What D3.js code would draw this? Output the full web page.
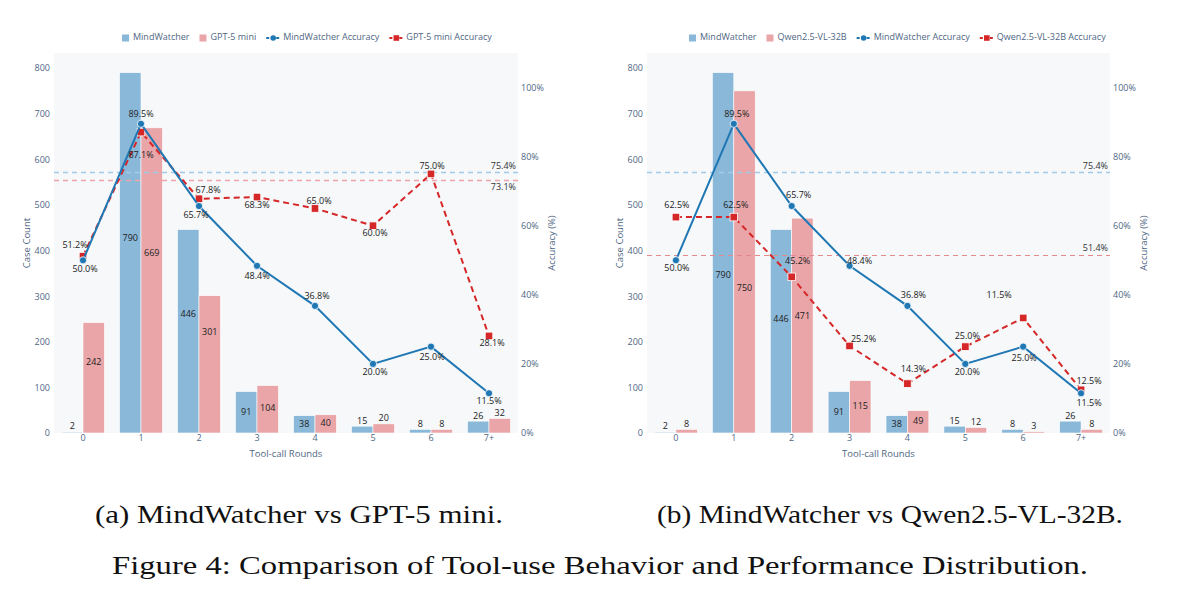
<!DOCTYPE html>
<html>
<head>
<meta charset="utf-8">
<script src="https://cdn.jsdelivr.net/npm/d3@7"></script>
<style>
  body { margin: 0; background: #fff; }
  svg { display: block; }
</style>
</head>
<body>
<script>
// values
const rounds = ['0', '1', '2', '3', '4', '5', '6', '7+']
const countTicks = [0, 100, 200, 300, 400, 500, 600, 700, 800]
const accTicks = [0, 20, 40, 60, 80, 100]

const mindCounts = [2, 790, 446, 91, 38, 15, 8, 26]
const mindAcc = [50.0, 89.5, 65.7, 48.4, 36.8, 20.0, 25.0, 11.5]
const mindMean = 75.4

const gptCounts = [242, 669, 301, 104, 40, 20, 8, 32]
const gptAcc = [51.2, 87.1, 67.8, 68.3, 65.0, 60.0, 75.0, 28.1]
const gptMean = 73.1

const qwenCounts = [8, 750, 471, 115, 49, 12, 3, 8]
const qwenAcc = [62.5, 62.5, 45.2, 25.2, 14.3, 25.0, 33.3, 12.5]
// the source figure prints "11.5%" next to the round-6 point
const qwenAccText = ['62.5%', '62.5%', '45.2%', '25.2%', '14.3%', '25.0%', '11.5%', '12.5%']
const qwenMean = 51.4

const pct = v => v.toFixed(1) + '%'

const width = 1187, height = 595
const blueBar = '#8ab8d9', pinkBar = '#e9a5a8'
const blueLine = '#1f77b4', redLine = '#d62728'
const tickColor = '#506784'
const font = 'Open Sans, sans-serif'

const svg = d3.select('body').append('svg')
    .attr('width', width)
    .attr('height', height)

function drawPanel(p) {
    const g = svg.append('g')

    const x = d3.scaleBand().domain(rounds).range([p.left, p.right]).padding(0)
    const yCount = d3.scaleLinear().domain([0, 833]).range([433, 53])
    const yAcc = d3.scaleLinear().domain([0, 110]).range([433, 53])
    const barW = x.bandwidth() * 0.37
    const cx = d => x(d) + x.bandwidth() / 2

    g.append('rect')
        .attr('x', p.left).attr('y', 53)
        .attr('width', p.right - p.left).attr('height', 380)
        .attr('fill', '#f6f8fa')

    // axes
    const left = g.append('g').attr('transform', `translate(${p.left},0)`)
        .call(d3.axisLeft(yCount).tickValues(countTicks).tickSize(0).tickPadding(4))
    const right = g.append('g').attr('transform', `translate(${p.right},0)`)
        .call(d3.axisRight(yAcc).tickValues(accTicks).tickSize(0).tickPadding(3).tickFormat(d => d + '%'))
    const bottom = g.append('g').attr('transform', 'translate(0,433)')
        .call(d3.axisBottom(x).tickSize(0).tickPadding(1.5))
    ;[left, right, bottom].forEach(a => {
        a.select('.domain').remove()
        a.selectAll('text').attr('fill', tickColor).attr('font-family', font).attr('font-size', 9)
    })

    g.append('text')
        .attr('transform', `translate(${p.left - 27},243) rotate(-90)`)
        .attr('text-anchor', 'middle').attr('dominant-baseline', 'middle')
        .attr('font-family', font).attr('font-size', 9.5).attr('fill', tickColor)
        .text('Case Count')
    g.append('text')
        .attr('transform', `translate(${p.right + 34},243) rotate(-90)`)
        .attr('text-anchor', 'middle').attr('dominant-baseline', 'middle')
        .attr('font-family', font).attr('font-size', 9.5).attr('fill', tickColor)
        .text('Accuracy (%)')
    g.append('text')
        .attr('x', (p.left + p.right) / 2).attr('y', 457)
        .attr('text-anchor', 'middle')
        .attr('font-family', font).attr('font-size', 9.5).attr('fill', tickColor)
        .text('Tool-call Rounds')

    // bars
    const barSeries = [
        { counts: mindCounts, color: blueBar, off: -barW, shift: p.blueShift },
        { counts: p.otherCounts, color: pinkBar, off: 0, shift: p.pinkShift }
    ]
    barSeries.forEach(s => {
        g.selectAll(null)
            .data(rounds)
            .enter()
            .append('rect')
            .attr('x', d => cx(d) + s.off)
            .attr('y', (d, i) => yCount(s.counts[i]))
            .attr('width', barW)
            .attr('height', (d, i) => 433 - yCount(s.counts[i]))
            .attr('fill', s.color)
            .attr('stroke', '#fff')
            .attr('stroke-width', 0.6)
    })

    // mean lines
    const means = [
        { v: mindMean, color: '#a3c9e6', w: 1.4, dy: -6 },
        { v: p.otherMean, color: p.otherMeanColor, w: p.otherMeanW, dy: p.otherMeanDy }
    ]
    means.forEach(m => {
        g.append('line')
            .attr('x1', p.left).attr('x2', p.right)
            .attr('y1', yAcc(m.v)).attr('y2', yAcc(m.v))
            .attr('stroke', m.color).attr('stroke-width', m.w)
            .attr('stroke-dasharray', '5,4')
        g.append('text')
            .attr('x', p.right - 2).attr('y', yAcc(m.v) + m.dy)
            .attr('text-anchor', 'end').attr('dominant-baseline', 'middle')
            .attr('font-family', font).attr('font-size', 9).attr('fill', '#333')
            .text(pct(m.v))
    })

    // bar labels
    barSeries.forEach(s => {
        g.selectAll(null)
            .data(rounds)
            .enter()
            .append('text')
            .attr('x', d => cx(d) + s.off + barW / 2)
            .attr('y', (d, i) => {
                const top = yCount(s.counts[i])
                const h = 433 - top
                if (h < 15) return top - 5
                return top + h / 2 + s.shift[i]
            })
            .attr('text-anchor', 'middle').attr('dominant-baseline', 'middle')
            .attr('font-family', font).attr('font-size', 9).attr('fill', '#222')
            .text((d, i) => s.counts[i])
    })

    // accuracy lines
    const lineSeries = [
        { acc: mindAcc, text: mindAcc.map(pct), color: blueLine, dash: null, shape: 'circle', place: p.mindPlace },
        { acc: p.otherAcc, text: p.otherAccText, color: redLine, dash: '6,4', shape: 'square', place: p.otherPlace }
    ]
    // draw red first so the blue line stays on top, as in the source
    lineSeries.slice().reverse().forEach(s => {
        const line = d3.line()
            .x(d => cx(d))
            .y((d, i) => yAcc(s.acc[i]))
        g.append('path')
            .datum(rounds)
            .attr('d', line)
            .attr('fill', 'none')
            .attr('stroke', s.color)
            .attr('stroke-width', 2)
            .attr('stroke-dasharray', s.dash)
        if (s.shape === 'circle') {
            g.selectAll(null).data(rounds).enter().append('circle')
                .attr('cx', d => cx(d))
                .attr('cy', (d, i) => yAcc(s.acc[i]))
                .attr('r', 3.6)
                .attr('fill', s.color).attr('stroke', '#fff').attr('stroke-width', 0.8)
        } else {
            g.selectAll(null).data(rounds).enter().append('rect')
                .attr('x', d => cx(d) - 3.8)
                .attr('y', (d, i) => yAcc(s.acc[i]) - 3.8)
                .attr('width', 7.6).attr('height', 7.6)
                .attr('fill', s.color).attr('stroke', '#fff').attr('stroke-width', 0.8)
        }
    })
    lineSeries.forEach(s => {
        g.selectAll(null).data(rounds).enter().append('text')
            .attr('x', (d, i) => cx(d) + s.place[i][0])
            .attr('y', (d, i) => yAcc(s.acc[i]) + s.place[i][1])
            .attr('text-anchor', 'middle').attr('dominant-baseline', 'middle')
            .attr('font-family', font).attr('font-size', 9).attr('fill', '#222')
            .text((d, i) => s.text[i])
    })

    // legend
    const items = [
        { label: 'MindWatcher', type: 'bar', color: blueBar },
        { label: p.otherName, type: 'bar', color: pinkBar },
        { label: 'MindWatcher Accuracy', type: 'line', color: blueLine, shape: 'circle' },
        { label: p.otherName + ' Accuracy', type: 'line', color: redLine, shape: 'square' }
    ]
    let lx = p.legendX
    const ly = 38
    items.forEach(it => {
        if (it.type === 'bar') {
            g.append('rect').attr('x', lx).attr('y', ly - 3.5).attr('width', 7).attr('height', 7)
                .attr('fill', it.color)
            lx += 11
        } else {
            g.append('line').attr('x1', lx).attr('x2', lx + 14).attr('y1', ly).attr('y2', ly)
                .attr('stroke', it.color).attr('stroke-width', 2).attr('stroke-dasharray', '3,2')
            if (it.shape === 'circle') {
                g.append('circle').attr('cx', lx + 7).attr('cy', ly).attr('r', 2.8).attr('fill', it.color)
            } else {
                g.append('rect').attr('x', lx + 4.2).attr('y', ly - 2.8).attr('width', 5.6).attr('height', 5.6)
                    .attr('fill', it.color)
            }
            lx += 17
        }
        const t = g.append('text')
            .attr('x', lx).attr('y', ly)
            .attr('dominant-baseline', 'middle')
            .attr('font-family', font).attr('font-size', 9).attr('fill', tickColor)
            .text(it.label)
        lx += t.node().getComputedTextLength() + 10
    })
}

drawPanel({
    left: 54, right: 518, legendX: 122,
    otherName: 'GPT-5 mini',
    otherCounts: gptCounts, otherAcc: gptAcc, otherAccText: gptAcc.map(pct),
    otherMean: gptMean, otherMeanColor: '#f0a3a8', otherMeanW: 1.4, otherMeanDy: 7,
    blueShift: [0, -14, -17, 0, 0, 0, 0, 0],
    pinkShift: [-15, -27, -32, -1, 0, 0, 0, 0],
    mindPlace: [[2, 9], [0, -9], [-3, 10], [0, 11], [2, -9], [2, 9], [1, 11], [0, 8]],
    otherPlace: [[-8, -11], [0, 23], [9, -8], [0, 9], [4, -7], [2, 8], [1, -7], [3, 8]]
})

drawPanel({
    left: 647, right: 1110, legendX: 689,
    otherName: 'Qwen2.5-VL-32B',
    otherCounts: qwenCounts, otherAcc: qwenAcc, otherAccText: qwenAccText,
    otherMean: qwenMean, otherMeanColor: '#e58a8c', otherMeanW: 1.1, otherMeanDy: -7,
    blueShift: [0, 23, -12, 0, 0, 0, 0, 0],
    pinkShift: [0, 27, -9, 0, 0, 0, 0, 0],
    mindPlace: [[1, 8], [3, -9], [7, -10], [10, -4], [6, -10], [2, 9], [1, 12], [8, 10]],
    otherPlace: [[1, -11], [2, -11], [6, -15], [14, -6], [6, -14], [2, -10], [-24, -22], [8, -8]]
})

// captions
const captions = [
    { text: '(a) MindWatcher vs GPT-5 mini.', x: 95, w: 408, y: 523 },
    { text: '(b) MindWatcher vs Qwen2.5-VL-32B.', x: 657, w: 466, y: 523 },
    { text: 'Figure 4: Comparison of Tool-use Behavior and Performance Distribution.', x: 112, w: 976, y: 574 }
]
svg.selectAll('.caption')
    .data(captions)
    .enter()
    .append('text')
    .attr('class', 'caption')
    .attr('x', d => d.x)
    .attr('y', d => d.y)
    .attr('textLength', d => d.w)
    .attr('lengthAdjust', 'spacingAndGlyphs')
    .attr('font-family', 'Liberation Serif, serif')
    .attr('font-size', 25)
    .attr('fill', '#111')
    .text(d => d.text)
</script>
</body>
</html>
